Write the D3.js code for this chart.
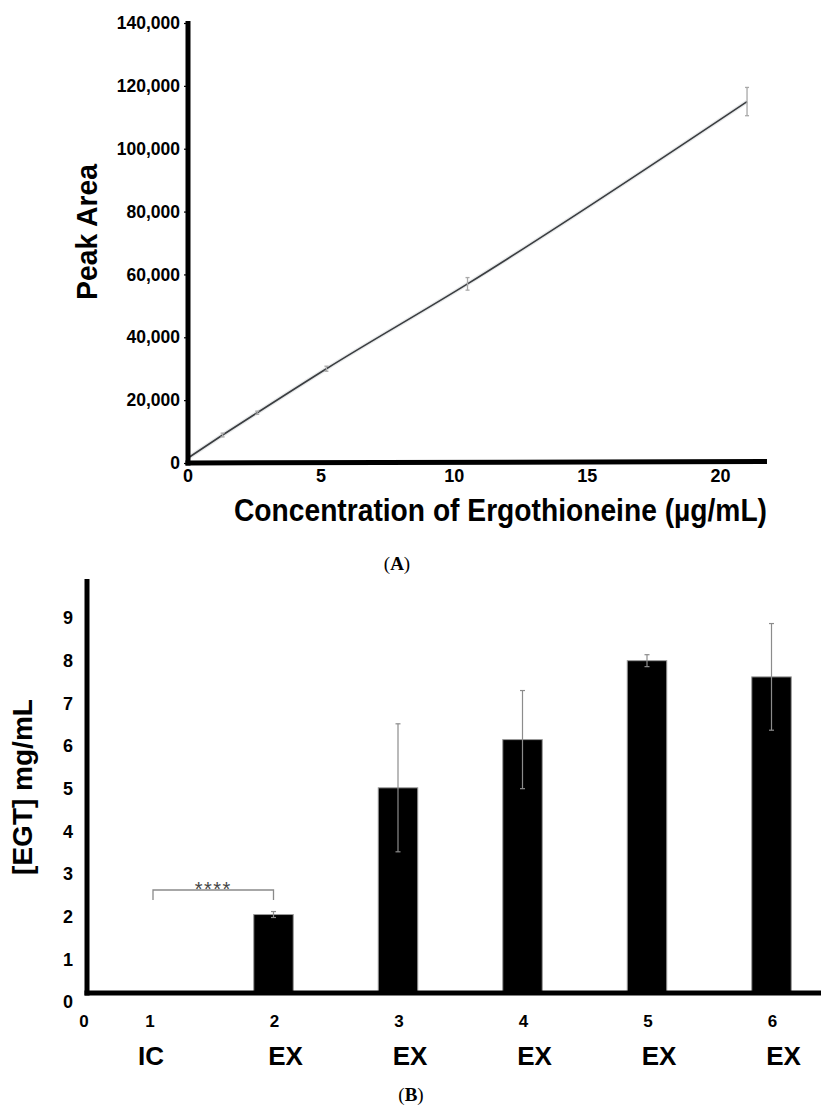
<!DOCTYPE html>
<html>
<head>
<meta charset="utf-8">
<script src="https://cdn.jsdelivr.net/npm/d3@7/dist/d3.min.js"></script>
<style>
  html, body { margin: 0; padding: 0; background: #fff; }
  svg { display: block; }
  text { font-family: "Liberation Sans", Arial, sans-serif; fill: #000; }
</style>
</head>
<body>
<svg id="chart" width="821" height="1106"></svg>
<script>
// ---------- Panel A data ----------
const concentrations = [0, 1.3, 2.6, 5.2, 10.5, 21];
const peakAreas      = [1600, 8900, 16000, 30000, 57000, 115000];
const peakErrors     = [0, 600, 500, 800, 2000, 4500];
const xTicksA = [0, 5, 10, 15, 20];
const yTicksA = [0, 20000, 40000, 60000, 80000, 100000, 120000, 140000];
const xTitleA = "Concentration of Ergothioneine (µg/mL)";
const yTitleA = "Peak Area";

// ---------- Panel B data ----------
const groups      = [1, 2, 3, 4, 5, 6];
const groupLabels = ["IC", "EX", "EX", "EX", "EX", "EX"];
const egtValues   = [0, 2.05, 5.02, 6.15, 8.0, 7.62];
const egtErrors   = [0, 0.07, 1.5, 1.15, 0.14, 1.25];
const yTicksB = [0, 1, 2, 3, 4, 5, 6, 7, 8, 9];
const yTitleB = "[EGT] mg/mL";
const sigLabel = "****";
const sigPair = [1, 2];

const svg = d3.select("#chart");

// ================= Panel A =================
const gA = svg.append("g");
const xA = d3.scaleLinear().domain([0, 21.75]).range([188, 767]);
const yA = d3.scaleLinear().domain([0, 140000]).range([463, 23]);

const ptsA = concentrations.map((c, i) => ({c, v: peakAreas[i], e: peakErrors[i]}));
const lineA = d3.line().x(d => xA(d.c)).y(d => yA(d.v)).curve(d3.curveMonotoneX);
gA.append("path").datum(ptsA)
  .attr("fill", "none").attr("stroke", "#cfd3d6").attr("stroke-width", 4).attr("opacity", 0.5)
  .attr("d", lineA);
gA.append("path").datum(ptsA)
  .attr("fill", "none").attr("stroke", "#3a3d40").attr("stroke-width", 1.6)
  .attr("d", lineA);

// error bars
const ebA = gA.append("g").attr("stroke", "#a8a8a8").attr("stroke-width", 1.3);
ptsA.filter(d => d.e > 0).forEach(d => {
  const x = xA(d.c);
  ebA.append("line").attr("x1", x).attr("x2", x).attr("y1", yA(d.v + d.e)).attr("y2", yA(d.v - d.e));
  ebA.append("line").attr("x1", x - 2).attr("x2", x + 2).attr("y1", yA(d.v + d.e)).attr("y2", yA(d.v + d.e));
  ebA.append("line").attr("x1", x - 2).attr("x2", x + 2).attr("y1", yA(d.v - d.e)).attr("y2", yA(d.v - d.e));
});

// y axis
const yAxisA = gA.append("g").attr("transform", `translate(${xA(0)},0)`)
  .call(d3.axisLeft(yA).tickValues(yTicksA).tickFormat(d3.format(",")).tickSize(4).tickPadding(4));
yAxisA.select(".domain").remove();
yAxisA.selectAll(".tick line").attr("stroke", "#000").attr("stroke-width", 1.2);
yAxisA.selectAll(".tick text")
  .attr("font-size", 17.5).attr("font-weight", "bold").attr("font-family", "Liberation Sans, Arial, sans-serif")
  .attr("fill", "#000");
gA.append("line").attr("x1", xA(0)).attr("x2", xA(0)).attr("y1", 21).attr("y2", yA(0) + 2.5)
  .attr("stroke", "#000").attr("stroke-width", 5);

// x axis
gA.append("line").attr("x1", xA(0) - 2.5).attr("x2", 767).attr("y1", yA(0)).attr("y2", yA(0) - 1.5)
  .attr("stroke", "#000").attr("stroke-width", 5);
gA.append("g").selectAll("text").data(xTicksA).join("text")
  .attr("x", d => xA(d)).attr("y", 482)
  .attr("text-anchor", "middle")
  .attr("font-size", 18).attr("font-weight", "bold")
  .style("font-family", "'Liberation Sans Narrow', 'Liberation Sans', Arial, sans-serif")
  .text(d => d);

// titles
gA.append("text")
  .attr("x", 767).attr("y", 521)
  .attr("text-anchor", "end")
  .attr("font-size", 31).attr("font-weight", "bold")
  .attr("textLength", 533).attr("lengthAdjust", "spacingAndGlyphs")
  .style("font-family", "'Liberation Sans Narrow', 'Liberation Sans', Arial, sans-serif")
  .text(xTitleA);
gA.append("text")
  .attr("transform", "translate(97,232) rotate(-90)")
  .attr("text-anchor", "middle")
  .attr("font-size", 30).attr("font-weight", "bold")
  .attr("textLength", 136).attr("lengthAdjust", "spacingAndGlyphs")
  .text(yTitleA);

// panel label (A)
const labA = svg.append("text").attr("x", 397).attr("y", 570).attr("text-anchor", "middle")
  .attr("font-size", 19).style("font-family", "'Liberation Serif', 'Times New Roman', serif");
labA.append("tspan").text("(");
labA.append("tspan").attr("font-weight", "bold").text("A");
labA.append("tspan").text(")");

// ================= Panel B =================
const gB = svg.append("g");
const xB = d3.scaleLinear().domain([1, 6]).range([149, 771.5]);
const yB = d3.scaleLinear().domain([0, 9]).range([1002, 618]);
const axisXB = 87;
const baseB = 993;
const barW = 39.5;

gB.append("clipPath").attr("id", "clipB").append("rect")
  .attr("x", axisXB).attr("y", 560).attr("width", 821 - axisXB).attr("height", baseB - 560);

const dataB = groups.map((g, i) => ({g, lab: groupLabels[i], v: egtValues[i], e: egtErrors[i]}));

gB.append("g").attr("clip-path", "url(#clipB)")
  .selectAll("rect").data(dataB.filter(d => d.v > 0)).join("rect")
  .attr("x", d => xB(d.g) - barW / 2)
  .attr("y", d => yB(d.v))
  .attr("width", barW)
  .attr("height", d => yB(0) - yB(d.v))
  .attr("fill", "#000")
  .attr("stroke", "#9a9a9a")
  .attr("stroke-width", 1);

const ebB = gB.append("g").attr("stroke", "#8c8c8c").attr("stroke-width", 1.2);
dataB.filter(d => d.e > 0).forEach(d => {
  const x = xB(d.g);
  ebB.append("line").attr("x1", x).attr("x2", x).attr("y1", yB(d.v + d.e)).attr("y2", yB(d.v - d.e));
  ebB.append("line").attr("x1", x - 2.5).attr("x2", x + 2.5).attr("y1", yB(d.v + d.e)).attr("y2", yB(d.v + d.e));
  ebB.append("line").attr("x1", x - 2.5).attr("x2", x + 2.5).attr("y1", yB(d.v - d.e)).attr("y2", yB(d.v - d.e));
});

gB.append("line").attr("x1", axisXB).attr("x2", axisXB).attr("y1", 579).attr("y2", baseB + 2.5)
  .attr("stroke", "#000").attr("stroke-width", 5);
gB.append("line").attr("x1", axisXB - 2.5).attr("x2", 821).attr("y1", baseB).attr("y2", baseB)
  .attr("stroke", "#000").attr("stroke-width", 5);

const yAxisB = gB.append("g").attr("transform", "translate(73,0)")
  .call(d3.axisLeft(yB).tickValues(yTicksB).tickSize(0).tickPadding(0));
yAxisB.select(".domain").remove();
yAxisB.selectAll(".tick text")
  .attr("font-size", 18).attr("font-weight", "bold").attr("font-family", "Liberation Sans, Arial, sans-serif")
  .attr("fill", "#000");

gB.append("text").attr("x", axisXB - 3).attr("y", 1027).attr("text-anchor", "middle")
  .attr("font-size", 17).attr("font-weight", "bold").text("0");
gB.append("g").selectAll("text").data(dataB).join("text")
  .attr("x", d => xB(d.g) + 1).attr("y", 1027)
  .attr("text-anchor", "middle")
  .attr("font-size", 17).attr("font-weight", "bold")
  .text(d => d.g);
gB.append("g").selectAll("text").data(dataB).join("text")
  .attr("x", (d, i) => xB(d.g) + (i === 0 ? 2 : 12)).attr("y", 1065)
  .attr("text-anchor", "middle")
  .attr("font-size", 26).attr("font-weight", "bold")
  .text(d => d.lab);

gB.append("text")
  .attr("transform", "translate(32,787) rotate(-90)")
  .attr("text-anchor", "middle")
  .attr("font-size", 28).attr("font-weight", "bold")
  .text(yTitleB);

const bx1 = xB(sigPair[0]) + 4, bx2 = xB(sigPair[1]);
gB.append("path")
  .attr("d", `M${bx1},900 V890 H${bx2} V900`)
  .attr("fill", "none").attr("stroke", "#8a8a8a").attr("stroke-width", 1.3);
gB.append("text").attr("x", (bx1 + bx2) / 2).attr("y", 896).attr("text-anchor", "middle")
  .attr("font-size", 20).attr("letter-spacing", 1.5)
  .style("fill", "#444")
  .text(sigLabel);

const labB = svg.append("text").attr("x", 411).attr("y", 1101).attr("text-anchor", "middle")
  .attr("font-size", 19).style("font-family", "'Liberation Serif', 'Times New Roman', serif");
labB.append("tspan").text("(");
labB.append("tspan").attr("font-weight", "bold").text("B");
labB.append("tspan").text(")");
</script>
</body>
</html>
